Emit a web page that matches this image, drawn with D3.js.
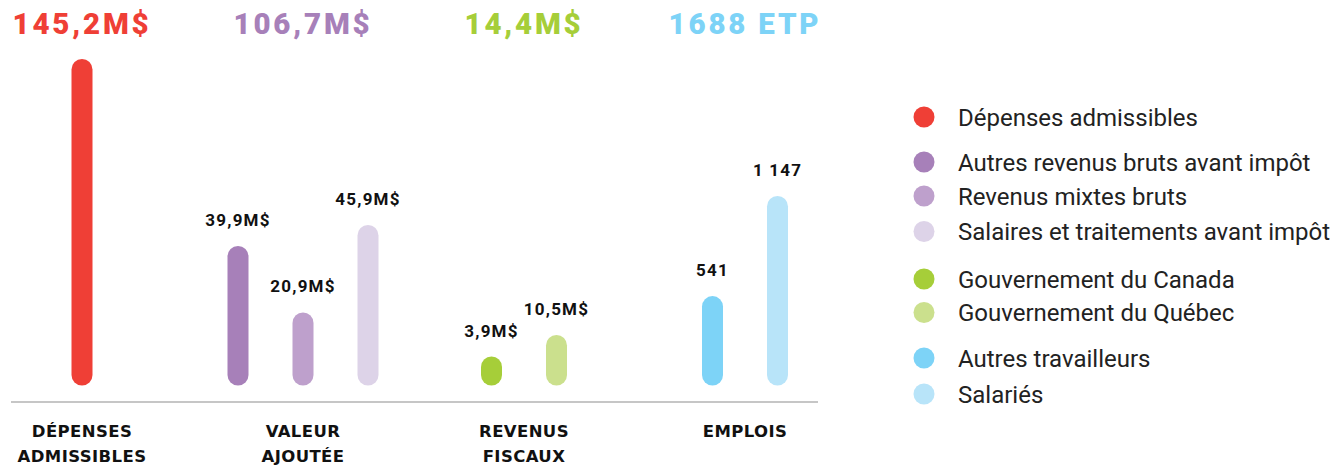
<!DOCTYPE html>
<html lang="fr">
<head>
<meta charset="utf-8">
<style>
  body { margin: 0; background: #fff; }
  .head { font-family: "Roboto", sans-serif; font-weight: 900; font-size: 29.5px; letter-spacing: 2.8px; }
  .val { font-family: "Roboto", sans-serif; font-weight: 700; font-size: 17px; letter-spacing: 1.2px; fill: #111; }
  .cat { font-family: "DejaVu Sans", sans-serif; font-weight: 700; font-size: 16.5px; letter-spacing: 0.4px; fill: #111; }
  .leg { font-family: "Roboto", sans-serif; font-size: 24px; fill: #222; }
</style>
</head>
<body>
<script src="https://cdn.jsdelivr.net/npm/d3@7"></script>
<script>
// data
const groupLines = [["DÉPENSES", "ADMISSIBLES"], ["VALEUR", "AJOUTÉE"], ["REVENUS", "FISCAUX"], ["EMPLOIS"]];
const groupTotals = ["145,2M$", "106,7M$", "14,4M$", "1688 ETP"];
const seriesNames = ["Dépenses admissibles", "Autres revenus bruts avant impôt", "Revenus mixtes bruts",
  "Salaires et traitements avant impôt", "Gouvernement du Canada", "Gouvernement du Québec",
  "Autres travailleurs", "Salariés"];
const seriesGroup = [0, 1, 1, 1, 2, 2, 3, 3];
const seriesValues = [145.2, 39.9, 20.9, 45.9, 3.9, 10.5, 541, 1147];
const valueLabels = ["", "39,9M$", "20,9M$", "45,9M$", "3,9M$", "10,5M$", "541", "1 147"];

const colors = ["#ef3f36", "#a780b9", "#bea0cc", "#ddd3e8", "#a6ce39", "#cbe08d", "#7dd3f7", "#b8e4f9"];
const headColors = ["#ef3f36", "#a780b9", "#a6ce39", "#7dd3f7"];

const W = 1335, H = 465;
const base = 385.5, lineY = 402;
const barW = 21, barStep = 65, minLen = 29;
// top of tallest bar in each group (each group has its own unit)
const groupBarTop = [59, 225, 335, 196];

const svg = d3.select("body").append("svg")
  .attr("width", W).attr("height", H);

const x = d3.scalePoint()
  .domain(d3.range(groupLines.length))
  .range([82, 745]);

const yScales = groupLines.map((g, gi) => {
  const mx = d3.max(seriesValues.filter((v, i) => seriesGroup[i] === gi));
  return d3.scaleLinear().domain([0, mx]).range([base, groupBarTop[gi]]);
});

const bars = seriesValues.map((v, i) => {
  const gi = seriesGroup[i];
  const members = seriesGroup.map((g, j) => j).filter(j => seriesGroup[j] === gi);
  const k = members.indexOf(i);
  const cx = x(gi) + (k - (members.length - 1) / 2) * barStep;
  const top = Math.min(yScales[gi](v), base - minLen);
  return { i, v, cx, top };
});

// baseline
svg.append("line")
  .attr("x1", 11).attr("x2", 818)
  .attr("y1", lineY).attr("y2", lineY)
  .attr("stroke", "#b3b3b3").attr("stroke-width", 1.5);

svg.selectAll("rect.bar")
  .data(bars)
  .enter()
  .append("rect")
  .attr("class", "bar")
  .attr("x", d => d.cx - barW / 2)
  .attr("y", d => d.top)
  .attr("width", barW)
  .attr("height", d => base - d.top)
  .attr("rx", barW / 2)
  .attr("fill", d => colors[d.i]);

svg.selectAll("text.val")
  .data(bars.filter(d => valueLabels[d.i] !== ""))
  .enter()
  .append("text")
  .attr("class", "val")
  .attr("x", d => d.cx)
  .attr("y", d => d.top - 20)
  .attr("text-anchor", "middle")
  .text(d => valueLabels[d.i]);

// headers
svg.selectAll("text.head")
  .data(groupTotals)
  .enter()
  .append("text")
  .attr("class", "head")
  .attr("x", (d, i) => x(i))
  .attr("y", 34)
  .attr("text-anchor", "middle")
  .attr("fill", (d, i) => headColors[i])
  .text(d => d);

// category labels
const cats = svg.selectAll("text.cat")
  .data(groupLines)
  .enter()
  .append("text")
  .attr("class", "cat")
  .attr("text-anchor", "middle");
cats.selectAll("tspan")
  .data((d, i) => d.map(t => ({ t, i })))
  .enter()
  .append("tspan")
  .attr("x", d => x(d.i))
  .attr("y", (d, k) => 437 + k * 25)
  .text(d => d.t);

// legend
const legY = [117, 162, 196, 231.5, 279, 312.5, 358, 394];
const leg = svg.selectAll("g.leg")
  .data(seriesNames)
  .enter()
  .append("g")
  .attr("transform", (d, i) => "translate(924," + legY[i] + ")");
leg.append("circle").attr("r", 10.5).attr("fill", (d, i) => colors[i]);
leg.append("text")
  .attr("class", "leg")
  .attr("x", 34)
  .attr("y", 8.5)
  .text(d => d);
</script>
</body>
</html>
